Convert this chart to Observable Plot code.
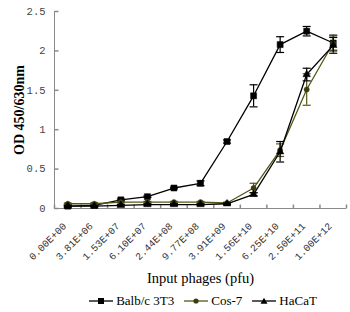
<!DOCTYPE html>
<html><head><meta charset="utf-8">
<script src="https://cdn.jsdelivr.net/npm/d3@7"></script>
<script src="https://cdn.jsdelivr.net/npm/@observablehq/plot@0.6"></script>
<style>
body{margin:0;background:#fff;width:350px;height:312px;overflow:hidden}
#chart svg{display:block}
g[aria-label="y-axis label"] text{font-family:"Liberation Serif",serif;font-weight:bold;font-size:14px;fill:#000}
g[aria-label="x-axis label"] text{font-family:"Liberation Serif",serif;font-weight:normal;font-size:14.5px;fill:#000}
#legend{height:22px;display:flex;justify-content:center;align-items:center;font-family:"Liberation Serif",serif;font-size:13px;color:#000;padding-left:56px;box-sizing:border-box;width:350px}
#legend .item{display:flex;align-items:center;margin:0 5px}
#legend svg{margin-right:3px}
</style></head><body>
<div id="chart"></div>
<div id="legend"></div>
<script>
const categories = ["0.00E+00","3.81E+06","1.53E+07","6.10E+07","2.44E+08","9.77E+08","3.91E+09","1.56E+10","6.25E+10","2.50E+11","1.00E+12"];
const yTicks = [0, 0.5, 1, 1.5, 2, 2.5];
const seriesNames = ["Balb/c 3T3", "Cos-7", "HaCaT"];
const balb      = [0.03, 0.04, 0.11, 0.15, 0.26, 0.32, 0.85, 1.43, 2.08, 2.25, 2.10];
const balbErr   = [0.01, 0.01, 0.01, 0.01, 0.01, 0.03, 0.02, 0.14, 0.10, 0.06, 0.10];
const cos7      = [0.06, 0.06, 0.08, 0.08, 0.08, 0.08, 0.07, 0.26, 0.74, 1.51, 2.10];
const cos7Err   = [0.01, 0.01, 0.01, 0.01, 0.01, 0.01, 0.01, 0.06, 0.08, 0.20, 0.09];
const hacat     = [0.03, 0.03, 0.04, 0.05, 0.05, 0.05, 0.06, 0.18, 0.72, 1.70, 2.07];
const hacatErr  = [0.01, 0.01, 0.01, 0.01, 0.01, 0.01, 0.01, 0.02, 0.13, 0.08, 0.10];

const styles = {
  "Balb/c 3T3": {line: "#000", mark: "#000", symbol: "square", r: 3.4},
  "Cos-7": {line: "#55551a", mark: "#3c3c0c", symbol: "circle", r: 2.6},
  "HaCaT": {line: "#000", mark: "#000", symbol: "triangle", r: 2.8}
};
const valueSets = [balb, cos7, hacat];
const errSets = [balbErr, cos7Err, hacatErr];

const rows = seriesNames.flatMap((name, s) =>
  valueSets[s].map((v, i) => ({name, i, v, e: errSets[s][i]})));

const capSymbol = {draw(ctx, size){ const w = Math.sqrt(size / Math.PI); ctx.moveTo(-w, 0); ctx.lineTo(w, 0); }};
const tickUp = {draw(ctx, size){ const w = Math.sqrt(size / Math.PI); ctx.moveTo(0, 0); ctx.lineTo(0, -w); }};
const tickRight = {draw(ctx, size){ const w = Math.sqrt(size / Math.PI); ctx.moveTo(0, 0); ctx.lineTo(w, 0); }};

const axisGray = "#8a8a8a";
const marks = [
  Plot.ruleX([-0.5], {stroke: axisGray}),
  Plot.ruleY([0], {stroke: axisGray}),
  Plot.dot(d3.range(-0.5, categories.length, 1), {x: d => d, frameAnchor: "bottom", symbol: tickUp, r: 4, stroke: axisGray, fill: "none"}),
  Plot.dot(yTicks, {y: d => d, frameAnchor: "left", symbol: tickRight, r: 4, stroke: axisGray, fill: "none"}),
  Plot.axisY({ticks: yTicks, tickSize: 0, tickPadding: 9, tickFormat: d => String(d), fontFamily: "Liberation Mono", fontSize: 10.5, fill: "#444",
    label: "OD 450/630nm", labelAnchor: "center", labelArrow: "none", labelOffset: 40}),
  Plot.axisX({ticks: d3.range(categories.length), tickSize: 0, tickPadding: 16, dx: -3, tickRotate: -45, tickFormat: i => categories[i],
    fontFamily: "Liberation Mono", fontSize: 10, fill: "#333",
    label: "Input phages (pfu)", labelAnchor: "center", labelArrow: "none", labelOffset: 74})
];
for (const name of seriesNames) {
  const st = styles[name];
  const data = rows.filter(d => d.name === name);
  marks.push(
    Plot.ruleX(data, {x: "i", y1: d => d.v - d.e, y2: d => d.v + d.e, stroke: st.line, strokeWidth: 1.2}),
    Plot.dot(data, {x: "i", y: d => d.v + d.e, symbol: capSymbol, r: 4, stroke: st.line, fill: "none", strokeWidth: 1.2}),
    Plot.dot(data, {x: "i", y: d => d.v - d.e, symbol: capSymbol, r: 4, stroke: st.line, fill: "none", strokeWidth: 1.2}),
    Plot.line(data, {x: "i", y: "v", stroke: st.line, strokeWidth: 1.3}),
    Plot.dot(data, {x: "i", y: "v", symbol: st.symbol, r: st.r, fill: st.mark, stroke: st.mark, strokeWidth: 0.5})
  );
}

const chart = Plot.plot({
  width: 350, height: 290,
  marginLeft: 54, marginRight: 4, marginTop: 11, marginBottom: 82,
  x: {type: "linear", domain: [-0.5, categories.length - 0.5], axis: null},
  y: {domain: [0, 2.5], axis: null},
  style: {background: "#fff", overflow: "visible"},
  marks
});
document.getElementById("chart").appendChild(chart);

const legend = document.getElementById("legend");
for (const name of seriesNames) {
  const st = styles[name];
  const item = document.createElement("div");
  item.className = "item";
  const sym = st.symbol === "square" ? "M-3,-3h6v6h-6z" : st.symbol === "circle" ? "M-2.6,0a2.6,2.6 0 1,0 5.2,0a2.6,2.6 0 1,0 -5.2,0" : "M0,-3.2L3.5,2.8L-3.5,2.8z";
  item.innerHTML = `<svg width="24" height="10" viewBox="-12 -5 24 10"><line x1="-12" x2="12" y1="0" y2="0" stroke="${st.line}" stroke-width="1.3"/><path d="${sym}" fill="${st.mark}"/></svg><span>${name}</span>`;
  legend.appendChild(item);
}
</script>
</body></html>
